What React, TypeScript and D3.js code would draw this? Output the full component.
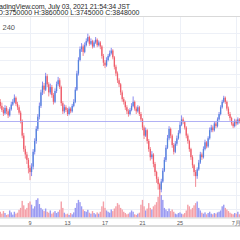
import { useEffect, useRef } from 'react';
import { scaleLinear, scaleTime, select, timeHour } from 'd3';

// 4h candles, BTCJPY (k JPY)
const firstOpen = 3990;
const closes = [
  3960, 3930, 3905, 3945, 3920, 3890, 3935, 3970, 3990, 4020, 3975, 3950, 3910,
  3850, 3740, 3640, 3600, 3560, 3500, 3470,
  3510, 3620, 3700, 3790, 3880, 3960, 4060, 4110,
  4080, 4180, 4120, 4060, 4100, 4040, 3990, 4070, 4120, 4150, 4100,
  3980, 3920, 3950, 3930, 3900, 3940, 3920, 3960, 3990,
  4080, 4200, 4300, 4380, 4400, 4360, 4410,
  4440, 4470, 4420, 4440, 4400, 4430, 4450, 4410, 4430, 4400,
  4330, 4280, 4260, 4300, 4330, 4350, 4370, 4320,
  4250, 4200, 4150, 4120, 4060, 4010, 3990,
  3950, 3920, 3900, 3930, 3960, 3990, 3940, 3920, 3950, 3900,
  3860, 3800, 3740, 3780, 3700, 3640, 3580, 3600, 3530, 3470, 3420, 3380, 3340, 3400, 3480, 3560, 3650, 3720, 3790,
  3740, 3670, 3620, 3680, 3720, 3760, 3820, 3860, 3840, 3800,
  3740, 3700, 3640, 3580, 3520, 3470, 3440, 3490, 3540, 3600, 3580,
  3640, 3690, 3660, 3720, 3780, 3800, 3780, 3830, 3810, 3860, 3900, 3950,
  3990, 4020, 3990, 3940, 3900, 3870, 3830, 3810, 3850, 3830, 3860, 3840,
];
const highs = [
  4010, 3985, 3950, 3965, 3960, 3935, 3950, 3990, 4010, 4045, 4030, 3990, 3965,
  3925, 3860, 3760, 3665, 3620, 3575, 3520,
  3535, 3640, 3720, 3810, 3900, 3985, 4080, 4140,
  4130, 4205, 4195, 4135, 4125, 4115, 4055, 4090, 4140, 4175, 4165,
  4110, 3995, 3970, 3965, 3945, 3955, 3950, 3975, 4010,
  4100, 4220, 4320, 4400, 4425, 4415, 4430,
  4460, 4495, 4480, 4460, 4450, 4445, 4470, 4460, 4445, 4440,
  4410, 4345, 4300, 4320, 4345, 4370, 4390, 4380,
  4330, 4265, 4215, 4165, 4130, 4075, 4025,
  4000, 3965, 3935, 3945, 3980, 4030, 4000, 3955, 3965, 3960,
  3915, 3870, 3815, 3800, 3790, 3715, 3655, 3625, 3610, 3545, 3480, 3435, 3390, 3420, 3500, 3580, 3670, 3745, 3810,
  3800, 3750, 3685, 3700, 3740, 3780, 3840, 3890, 3875, 3850,
  3810, 3755, 3710, 3650, 3595, 3530, 3485, 3505, 3560, 3620, 3615,
  3660, 3710, 3700, 3735, 3800, 3820, 3815, 3845, 3845, 3875, 3915, 3965,
  4005, 4035, 4030, 4000, 3955, 3915, 3880, 3845, 3865, 3860, 3875, 3870,
];
const lows = [
  3940, 3915, 3885, 3895, 3900, 3870, 3880, 3925, 3960, 3980, 3960, 3930, 3895,
  3830, 3720, 3620, 3570, 3530, 3460, 3410,
  3440, 3490, 3600, 3680, 3775, 3860, 3945, 4040,
  4050, 4070, 4100, 4030, 4045, 4020, 3970, 3980, 4055, 4105, 4085,
  3960, 3900, 3905, 3915, 3885, 3890, 3905, 3910, 3950,
  3980, 4070, 4185, 4290, 4360, 4330, 4350,
  4400, 4430, 4405, 4410, 4385, 4390, 4420, 4395, 4400, 4380,
  4310, 4255, 4240, 4250, 4290, 4320, 4340, 4305,
  4230, 4180, 4130, 4100, 4040, 3990, 3970,
  3930, 3900, 3880, 3890, 3920, 3950, 3925, 3900, 3910, 3885,
  3840, 3780, 3715, 3730, 3680, 3620, 3555, 3565, 3505, 3440, 3390, 3340, 3290, 3320, 3390, 3470, 3545, 3640, 3705,
  3720, 3650, 3600, 3610, 3665, 3710, 3750, 3810, 3825, 3785,
  3720, 3680, 3620, 3560, 3500, 3440, 3360, 3420, 3480, 3530, 3560,
  3570, 3630, 3645, 3650, 3710, 3765, 3765, 3770, 3795, 3800, 3850, 3890,
  3940, 3980, 3975, 3925, 3885, 3850, 3815, 3795, 3800, 3815, 3820, 3830,
];
const volumes = [
  18, 12, 20, 14, 8, 10, 22, 16, 9, 18, 12, 15, 24,
  30, 52, 38, 25, 30, 45, 50,
  40, 28, 35, 55, 60, 42, 30, 25,
  20, 28, 18, 15, 22, 12, 16, 20, 14, 18, 24,
  50, 30, 15, 10, 12, 8, 14, 10, 16,
  30, 45, 55, 48, 35, 25, 20,
  18, 24, 15, 12, 20, 14, 10, 16, 12, 18,
  35, 50, 30, 22, 18, 15, 25, 20,
  28, 35, 45, 40, 30, 25, 18,
  14, 10, 12, 16, 22, 18, 10, 8, 12, 15,
  40, 55, 35, 22, 28, 45, 30, 25, 35, 40, 48, 65, 85, 70, 55, 30, 25, 20, 28,
  20, 25, 18, 12, 10, 14, 16, 12, 10, 14,
  22, 40, 35, 25, 30, 38, 45, 50, 30, 22, 15,
  12, 16, 10, 14, 18, 12, 10, 14, 12, 16, 18, 22,
  35, 40, 30, 25, 20, 15, 12, 10, 14, 12, 18, 10,
];
const priceGrid = [3200, 3300, 3400, 3500, 3600, 3700, 3800, 3900, 4000, 4100, 4200, 4300, 4400, 4500];
const dayTicks = [
  new Date(2021, 5, 9),
  new Date(2021, 5, 13),
  new Date(2021, 5, 17),
  new Date(2021, 5, 21),
  new Date(2021, 5, 25),
  new Date(2021, 6, 1),
];
const dayLabels = ['9', '13', '17', '21', '25', '7月'];
const lastPrice = 3848;
const headerLines = [
  'TradingView.com, July 03, 2021 21:54:34 JST',
  'O:3750000 H:3860000 L:3745000 C:3848000',
];
const intervalLabel = '240';

export default function App() {
  const svgRef = useRef<SVGSVGElement>(null);

  useEffect(() => {
    const width = 240;
    const height = 240;
    const paneTop = 16.5;
    const paneBottom = 217.5;
    const font = '"Liberation Sans", Arial, sans-serif';

    const start = new Date(2021, 5, 5, 20); // 6/5 20:00
    const candles = closes.map((c, i) => ({
      t: timeHour.offset(start, i * 4),
      o: i === 0 ? firstOpen : closes[i - 1],
      c,
      h: highs[i],
      l: lows[i],
      v: volumes[i],
    }));

    const x = scaleTime()
      .domain([new Date(2021, 5, 9), new Date(2021, 5, 25)])
      .range([30, 180]);
    const y = scaleLinear().domain([3800, 3900]).range([127.5, 114]);
    const yVol = scaleLinear().domain([0, 100]).range([paneBottom, paneBottom - 32]);

    const svg = select(svgRef.current);
    svg.selectAll('*').remove();
    svg.attr('width', width).attr('height', height);

    svg.append('rect').attr('width', width).attr('height', height).attr('fill', '#ffffff');

    // grid
    svg
      .selectAll('line.hgrid')
      .data(priceGrid)
      .enter()
      .append('line')
      .attr('class', 'hgrid')
      .attr('x1', 0)
      .attr('x2', width)
      .attr('y1', (d) => Math.round(y(d)) + 0.5)
      .attr('y2', (d) => Math.round(y(d)) + 0.5)
      .attr('stroke', '#edf0f7');
    svg
      .selectAll('line.vgrid')
      .data(dayTicks)
      .enter()
      .append('line')
      .attr('class', 'vgrid')
      .attr('x1', (d) => Math.round(x(d)) + 0.5)
      .attr('x2', (d) => Math.round(x(d)) + 0.5)
      .attr('y1', paneTop)
      .attr('y2', paneBottom)
      .attr('stroke', '#edf0f7');

    // header (cropped at the left edge like the screenshot)
    svg
      .append('line')
      .attr('x1', 0)
      .attr('x2', width)
      .attr('y1', paneTop)
      .attr('y2', paneTop)
      .attr('stroke', '#d9d9d9');
    svg
      .append('text')
      .attr('x', -7)
      .attr('y', 8.5)
      .attr('font-family', font)
      .attr('font-size', 7)
      .attr('fill', '#2a2a2a')
      .attr('textLength', 137)
      .text(headerLines[0]);
    svg
      .append('text')
      .attr('x', -2.5)
      .attr('y', 15)
      .attr('font-family', font)
      .attr('font-size', 7)
      .attr('fill', '#2a2a2a')
      .attr('textLength', 142)
      .text(headerLines[1]);
    svg
      .append('text')
      .attr('x', 2.5)
      .attr('y', 29.5)
      .attr('font-family', font)
      .attr('font-size', 7.5)
      .attr('fill', '#555')
      .text(intervalLabel);

    // volume
    svg
      .selectAll('rect.vol')
      .data(candles)
      .enter()
      .append('rect')
      .attr('class', 'vol')
      .attr('x', (d) => x(d.t) - 0.7)
      .attr('width', 1.4)
      .attr('y', (d) => yVol(d.v))
      .attr('height', (d) => paneBottom - yVol(d.v))
      .attr('fill', (d) => (d.c >= d.o ? '#9a9af2' : '#f4a0a8'));

    // candles
    const g = svg
      .selectAll('g.candle')
      .data(candles)
      .enter()
      .append('g')
      .attr('class', 'candle');
    g.append('line')
      .attr('x1', (d) => x(d.t))
      .attr('x2', (d) => x(d.t))
      .attr('y1', (d) => y(d.h))
      .attr('y2', (d) => y(d.l))
      .attr('stroke', (d) => (d.c >= d.o ? '#8b8bf0' : '#f28a94'))
      .attr('stroke-width', 1);
    g.append('rect')
      .attr('x', (d) => x(d.t) - 0.65)
      .attr('width', 1.3)
      .attr('y', (d) => y(Math.max(d.o, d.c)))
      .attr('height', (d) => Math.max(1, Math.abs(y(d.o) - y(d.c))))
      .attr('fill', (d) => (d.c >= d.o ? '#5484dc' : '#ef5d6a'));

    // last price line
    svg
      .append('line')
      .attr('x1', 0)
      .attr('x2', width)
      .attr('y1', Math.round(y(lastPrice)) + 0.5)
      .attr('y2', Math.round(y(lastPrice)) + 0.5)
      .attr('stroke', '#a3a3f3')
      .attr('stroke-opacity', 0.85);

    // time axis
    svg
      .append('line')
      .attr('x1', 0)
      .attr('x2', width)
      .attr('y1', paneBottom + 0.5)
      .attr('y2', paneBottom + 0.5)
      .attr('stroke', '#d4d4d4');
    svg
      .append('line')
      .attr('x1', 0)
      .attr('x2', width)
      .attr('y1', 226)
      .attr('y2', 226)
      .attr('stroke', '#b5b5b5')
      .attr('stroke-width', 1.2);
    svg
      .selectAll('text.day')
      .data(dayTicks)
      .enter()
      .append('text')
      .attr('class', 'day')
      .attr('x', (d) => x(d))
      .attr('y', 224.5)
      .attr('text-anchor', 'middle')
      .attr('font-family', font)
      .attr('font-size', 5.5)
      .attr('fill', '#555')
      .text((d, i) => dayLabels[i]);
  }, []);

  return (
    <div style={{ position: 'absolute', left: 0, top: 0 }}>
      <svg ref={svgRef} style={{ display: 'block' }}></svg>
    </div>
  );
}
